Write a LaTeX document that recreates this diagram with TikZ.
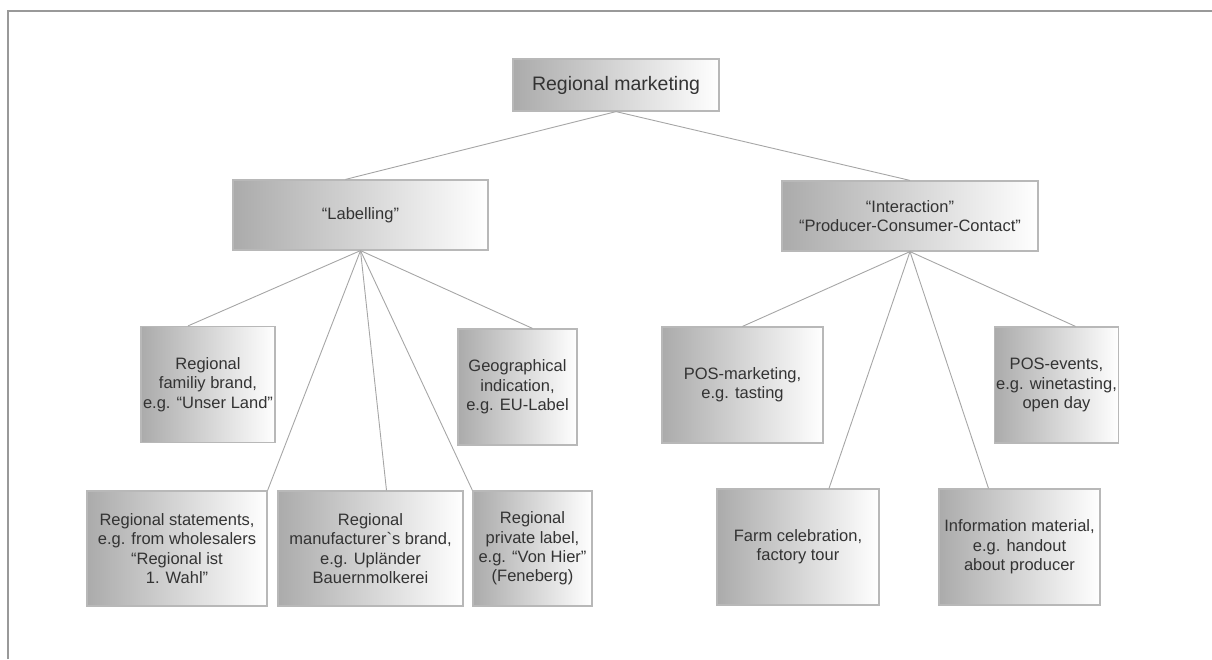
\documentclass[tikz,border=0pt]{standalone}
\usepackage{fontspec}
\setmainfont{Liberation Sans}
\begin{document}
\begin{tikzpicture}[x=1pt,y=-1pt,
  mbox/.style={draw=black!28,line width=1.2pt,left color=black!33,right color=white,
    align=center,inner sep=2pt,text=black!80,font=\fontsize{16.5}{19.3}\selectfont},
  link/.style={draw=black!35,line width=0.9pt}]
  \useasboundingbox (0,0) rectangle (1212,659);
  \draw[black!40,line width=1.2pt] (8,659) -- (8,11) -- (1212,11);
  % top and second level
  \node[mbox,minimum width=206,minimum height=52,font=\fontsize{19.5}{22}\selectfont] (top) at (616,85) {Regional marketing};
  \node[mbox,minimum width=255,minimum height=70] (lab) at (360.5,215) {“Labelling”};
  \node[mbox,minimum width=256,minimum height=70] (inter) at (910,216) {“Interaction”\\“Producer-Consumer-Contact”};
  % first row
  \node[mbox,minimum width=120,minimum height=116] (fam) at (208,384.5) {Regional\\familiy brand,\\e.g. “Unser Land”};
  \node[mbox,minimum width=119,minimum height=116] (geo) at (517.5,387) {Geographical\\indication,\\e.g. EU-Label};
  \node[mbox,minimum width=161,minimum height=116] (posm) at (742.5,385) {POS-marketing,\\e.g. tasting};
  \node[mbox,minimum width=121,minimum height=116] (pose) at (1056.5,385) {POS-events,\\e.g. winetasting,\\open day};
  % second row
  \node[mbox,minimum width=180,minimum height=115] (stat) at (177,548.5) {Regional statements,\\e.g. from wholesalers\\“Regional ist\\1. Wahl”};
  \node[mbox,minimum width=185,minimum height=115] (manu) at (370.5,548.5) {Regional\\manufacturer\textasciigrave s brand,\\e.g. Upländer\\Bauernmolkerei};
  \node[mbox,minimum width=119,minimum height=115] (priv) at (532.5,548.5) {Regional\\private label,\\e.g. “Von Hier”\\(Feneberg)};
  \node[mbox,minimum width=162,minimum height=116] (farm) at (798,547) {Farm celebration,\\factory tour};
  \node[mbox,minimum width=161,minimum height=116] (info) at (1019.5,547) {Information material,\\e.g. handout\\about producer};
  % connectors
  \draw[link] (top.south) -- ([xshift=-15pt]lab.north);
  \draw[link] (top.south) -- (inter.north);
  \draw[link] (lab.south) -- ([xshift=-20pt]fam.north);
  \draw[link] (lab.south) -- ([xshift=15pt]geo.north);
  \draw[link] (lab.south) -- (stat.north east);
  \draw[link] (lab.south) -- ([xshift=16pt]manu.north);
  \draw[link] (lab.south) -- (priv.north west);
  \draw[link] (inter.south) -- (posm.north);
  \draw[link] (inter.south) -- ([xshift=19pt]pose.north);
  \draw[link] (inter.south) -- ([xshift=31pt]farm.north);
  \draw[link] (inter.south) -- ([xshift=-31pt]info.north);
\end{tikzpicture}
\end{document}
